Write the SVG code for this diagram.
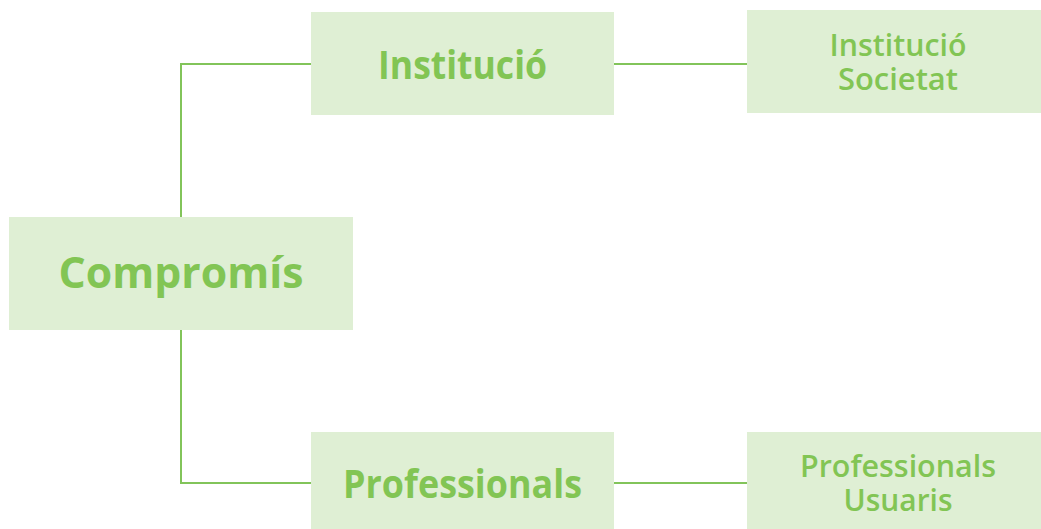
<svg xmlns="http://www.w3.org/2000/svg" width="1041" height="529" viewBox="0 0 1041 529">
<style>
.box{fill:#dfefd4}
.t{font-family:"Open Sans",Lato,sans-serif;fill:#82c554;text-anchor:middle;font-weight:700;font-variant-ligatures:none}
.s{font-weight:600}
.c{fill:none;stroke:#82c45a;stroke-width:2}
</style>
<rect width="1041" height="529" fill="#ffffff"/>
<g id="connectors">
<path class="c" d="M311 64H181V217"/>
<path class="c" d="M181 330V483H311"/>
<path class="c" d="M614 64H747"/>
<path class="c" d="M614 483H747"/>
</g>
<g id="compromis">
<rect class="box" x="9" y="217" width="344" height="113"/>
<text class="t" x="181" y="288" font-size="43" textLength="245" lengthAdjust="spacingAndGlyphs">Compromís</text>
</g>
<g id="institucio">
<rect class="box" x="311" y="12" width="303" height="103"/>
<text class="t" x="462.5" y="79" font-size="40" textLength="169" lengthAdjust="spacingAndGlyphs">Institució</text>
</g>
<g id="professionals">
<rect class="box" x="311" y="432" width="303" height="97"/>
<text class="t" x="462.5" y="498" font-size="40" textLength="239" lengthAdjust="spacingAndGlyphs">Professionals</text>
</g>
<g id="institucio-societat">
<rect class="box" x="747" y="10" width="294" height="103"/>
<text class="t s" x="898" y="56" font-size="30" textLength="137" lengthAdjust="spacingAndGlyphs">Institució</text>
<text class="t s" x="898" y="90" font-size="30" textLength="120" lengthAdjust="spacingAndGlyphs">Societat</text>
</g>
<g id="professionals-usuaris">
<rect class="box" x="747" y="432" width="294" height="97"/>
<text class="t s" x="898" y="477" font-size="30" textLength="196" lengthAdjust="spacingAndGlyphs">Professionals</text>
<text class="t s" x="898" y="511" font-size="30" textLength="109" lengthAdjust="spacingAndGlyphs">Usuaris</text>
</g>
</svg>
